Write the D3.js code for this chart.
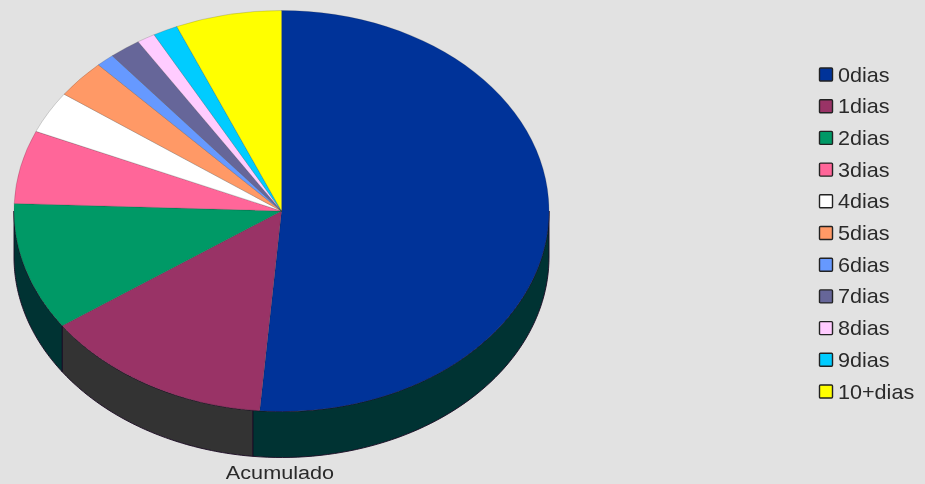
<!DOCTYPE html>
<html>
<head>
<meta charset="utf-8">
<script src="https://cdn.jsdelivr.net/npm/d3@7"></script>
<style>
html,body{margin:0;padding:0;background:#e2e2e2;overflow:hidden}
svg{display:block;filter:blur(0.6px)}
text{font-family:"Liberation Sans",Arial,sans-serif;fill:#2a2a2a}
</style>
</head>
<body>
<script>
const categories = ["0dias","1dias","2dias","3dias","4dias","5dias","6dias","7dias","8dias","9dias","10+dias"];
const values = [51.3,14.0,10.3,5.9,3.4,3.1,1.1,1.9,1.1,1.5,6.4];
const topColors = ["#003399","#993366","#009966","#FF6699","#FFFFFF","#FF9966","#6699FF","#666699","#FFCCFF","#00CCFF","#FFFF00"];
const wallColors = ["#003333","#333333","#003333","#333333","#333333","#333333","#333333","#333333","#333333","#333333","#333333"];
const seriesLabel = "Acumulado";

const W = 925, H = 484;
const cx = 281.5, cy = 211, rx = 267.5, ry = 200.5, depth = 46;
const wallSeamShift = 0.026; // the wall seam under the first slice sits a little past the top edge

const svg = d3.select("body").append("svg").attr("width", W).attr("height", H);
svg.append("rect").attr("width", W).attr("height", H).attr("fill", "#e2e2e2");

const pie = d3.pie().sort(null).value(d => d);
const arcs = pie(values);
const arcGen = d3.arc().innerRadius(0).outerRadius(rx);

// Wall: the part of each slice's rim on the near side of the disc
const px = a => cx + rx * Math.sin(a);
const py = a => cy - ry * Math.cos(a);
const wallLine = d3.line().x(d => d.x).y(d => d.y);
const wall = svg.append("g");
arcs.forEach((s, i) => {
  let a0 = Math.max(s.startAngle, Math.PI / 2);
  let a1 = Math.min(s.endAngle, 3 * Math.PI / 2);
  if (i === 0) a1 += wallSeamShift;
  if (i === 1) a0 += wallSeamShift;
  if (a1 <= a0) return;
  const steps = d3.range(0, 61).map(k => a0 + (a1 - a0) * k / 60);
  const upper = steps.map(a => ({x: px(a), y: py(a)}));
  const lower = steps.slice().reverse().map(a => ({x: px(a), y: py(a) + depth}));
  wall.append("path")
    .attr("d", wallLine(upper.concat(lower)) + "Z")
    .attr("fill", wallColors[i])
    .attr("stroke", "#1a0a22")
    .attr("stroke-width", 0.9)
    .attr("stroke-linejoin", "round");
});

// Top face
svg.append("g")
  .attr("transform", `translate(${cx},${cy}) scale(1,${ry / rx})`)
  .selectAll("path").data(arcs).join("path")
  .attr("d", arcGen)
  .attr("fill", (d, i) => topColors[i])
  .attr("stroke", "#222")
  .attr("stroke-opacity", 0.35)
  .attr("stroke-width", 0.6);

// Legend
const legendY = d3.scalePoint().domain(categories).range([74.5, 391.5]);
const legend = svg.append("g").selectAll("g").data(categories).join("g")
  .attr("transform", d => `translate(819,${legendY(d)})`);
legend.append("rect")
  .attr("x", 0.5).attr("y", -6.5).attr("width", 13).attr("height", 13).attr("rx", 1)
  .attr("fill", (d, i) => topColors[i])
  .attr("stroke", "#222").attr("stroke-width", 1.4);
legend.append("text")
  .attr("transform", "translate(19,7) scale(1.08,1)")
  .attr("font-size", 20)
  .text(d => d);

svg.append("text")
  .attr("transform", "translate(280,479) scale(1.14,1)")
  .attr("text-anchor", "middle")
  .attr("font-size", 19)
  .text(seriesLabel);
</script>
</body>
</html>
